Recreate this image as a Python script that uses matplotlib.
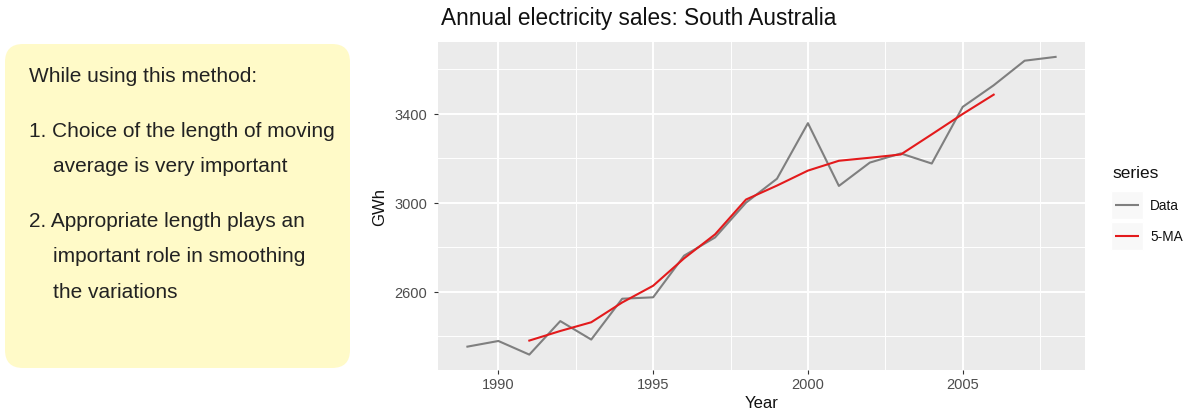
import matplotlib
matplotlib.use("Agg")
import matplotlib.pyplot as plt
from matplotlib.patches import FancyBboxPatch, Rectangle

years = list(range(1989, 2009))
sales = [2354.34, 2379.71, 2318.52, 2468.99, 2386.09, 2569.47, 2575.72, 2762.72,
         2844.50, 3000.70, 3108.10, 3357.50, 3075.70, 3180.60, 3221.60, 3176.20,
         3430.60, 3527.48, 3637.89, 3655.00]
ma_years = list(range(1991, 2007))
ma5 = [2381.53, 2424.56, 2463.76, 2552.60, 2627.70, 2750.62, 2858.35, 3014.70,
       3077.30, 3144.52, 3188.70, 3202.32, 3216.94, 3307.30, 3398.75, 3485.43]
x_ticks = [1990, 1995, 2000, 2005]
y_ticks = [2600, 3000, 3400]
legend_labels = ["Data", "5-MA"]
series_colors = ['#7F7F7F', '#E31A1C']

plt.rcParams['font.family'] = ['Liberation Sans', 'DejaVu Sans']

fig = plt.figure(figsize=(11.9, 4.14), dpi=100)
fig.patch.set_facecolor('white')

# Overlay in pixel coordinates for the text box, title and legend
ov = fig.add_axes([0, 0, 1, 1], zorder=0)
ov.set_xlim(0, 1190)
ov.set_ylim(414, 0)
ov.axis('off')
box = FancyBboxPatch((5, 45), 345, 324, boxstyle="round,pad=0,rounding_size=18",
                     facecolor='#FFFAC8', edgecolor='none')
ov.add_patch(box)
tc = '#222222'
fs = 15
ov.text(29, 76, "While using this method:", fontsize=fs, color=tc, va='center')
ov.text(29, 132, "1. Choice of the length of moving", fontsize=fs, color=tc, va='center')
ov.text(53, 167, "average is very important", fontsize=fs, color=tc, va='center')
ov.text(29, 222, "2. Appropriate length plays an", fontsize=fs, color=tc, va='center')
ov.text(53, 257, "important role in smoothing", fontsize=fs, color=tc, va='center')
ov.text(53, 293, "the variations", fontsize=fs, color=tc, va='center')

# Title
ov.text(441, 19, "Annual electricity sales: South Australia", fontsize=16.3,
        color='#111111', va='center', ha='left')

# Legend (drawn in the overlay)
ov.text(1112, 174, "series", fontsize=12.5, color='#111111', va='center', ha='left')
for i, (lab, col) in enumerate(zip(legend_labels, series_colors)):
    yy = 206 + 31 * i
    ov.add_patch(Rectangle((1111, yy - 14), 32, 28, facecolor='#F8F8F8', edgecolor='white', linewidth=1))
    ov.plot([1115, 1139], [yy, yy], color=col, linewidth=1.5, solid_capstyle='butt')
    ov.text(1150, yy, lab, fontsize=9.8, color='#111111', va='center', ha='left')

# Chart
ax = fig.add_axes([438/1190, 1 - 370.5/414, (1085 - 438)/1190, (370.5 - 43)/414], zorder=1)
ax.set_facecolor('#EBEBEB')
ymin, ymax = min(sales), max(sales)
yr = ymax - ymin
ax.set_ylim(ymin - 0.05 * yr, ymax + 0.05 * yr)
xr = years[-1] - years[0]
ax.set_xlim(years[0] - 0.05 * xr, years[-1] + 0.05 * xr)

ax.set_xticks(x_ticks)
ax.set_yticks(y_ticks)
ax.set_xticks([1992.5, 1997.5, 2002.5, 2007.5], minor=True)
ax.set_yticks([2400, 2800, 3200, 3600], minor=True)
ax.grid(True, which='major', color='white', linewidth=1.4)
ax.grid(True, which='minor', color='white', linewidth=0.7)
ax.set_axisbelow(True)
for s in ax.spines.values():
    s.set_visible(False)
ax.tick_params(which='major', length=3, color='#333333', labelsize=10.5, labelcolor='#4D4D4D')
ax.tick_params(axis='y', which='major', pad=5)
ax.tick_params(axis='x', which='major', pad=2.5)
ax.tick_params(which='minor', length=0)

ax.plot(years, sales, color=series_colors[0], linewidth=1.5, zorder=2)
ax.plot(ma_years, ma5, color=series_colors[1], linewidth=1.5, zorder=3)

ax.set_xlabel("Year", fontsize=12, color='#111111', labelpad=3)
ax.set_ylabel("GWh", fontsize=12, color='#111111', labelpad=5)

fig.savefig("out.png", dpi=100)
